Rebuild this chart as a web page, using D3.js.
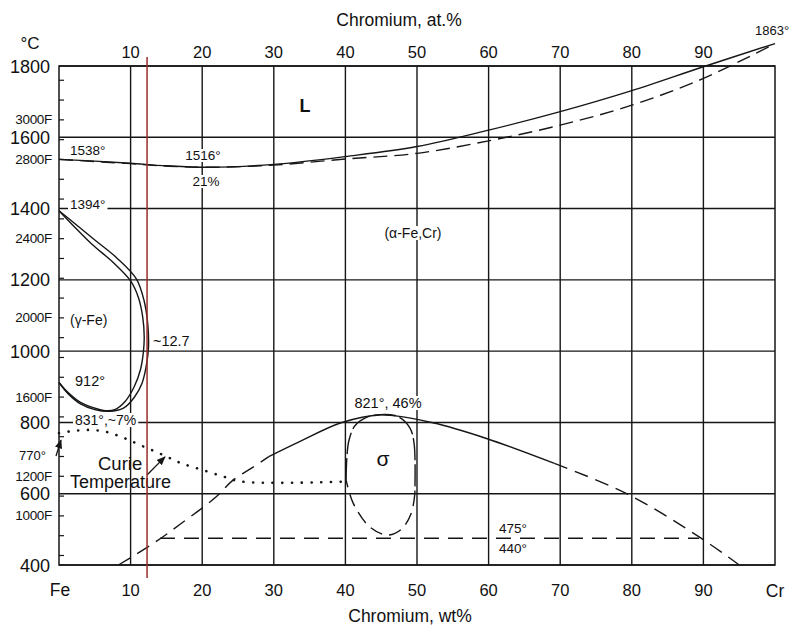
<!DOCTYPE html>
<html><head><meta charset="utf-8">
<script src="https://cdn.jsdelivr.net/npm/d3@7"></script>
<style>
html,body{margin:0;padding:0;background:#fff;}
text{font-family:"Liberation Sans",Arial,sans-serif;fill:#111;}
</style></head>
<body><svg id="c" width="792" height="630"></svg>
<script>
// ---------- data ----------
const wtTicks = [10,20,30,40,50,60,70,80,90];
const atTicks = [10,20,30,40,50,60,70,80,90];
const cTicks = [400,600,800,1000,1200,1400,1600,1800];
const fLabels = [1000,1200,1600,2000,2400,2800,3000];
// liquidus (solid) [wt%, °C]
const liquidus = [[0,1538],[5,1533],[10,1527],[15,1520],[21,1516],[30,1524],[40,1546],[50,1574],[60,1620],[70,1672],[80,1731],[90,1798],[100,1863]];
// solidus (dashed)
const solidus = [[0,1538],[5,1532],[10,1526],[15,1519],[21,1516],[30,1522],[40,1539],[50,1555],[60,1590],[70,1634],[80,1690],[90,1765],[100,1863]];
// gamma loop
const gammaOuter = [[0,1394],[2.2,1358],[5,1312],[8,1263],[10.8,1203],[11.9,1140],[12.4,1075],[12.5,1010],[12.2,960],[11.6,910],[10.5,870],[9,840],[7,831],[5,836],[3,852],[1.3,880],[0,912]];
const gammaInner = [[0,1394],[2,1352],[4.6,1300],[7.5,1250],[10,1197],[11.1,1150],[11.7,1095],[11.9,1040],[11.8,1000],[11.4,950],[10.5,900],[9.2,858],[7.8,836],[6.5,833],[5,840],[3,856],[1.2,885],[0,912]];
// Curie temperature (dotted)
const curie = [[0,770],[2,776],[4,779],[6.5,774],[9,757],[11.5,735],[14.5,709],[17,686],[20,667],[23,648],[25.5,634],[40.2,634]];
// alpha / alpha+sigma dome
const domeLeftDash = [[8.3,400],[13.2,461],[17.1,517],[22,592],[24.3,638],[27,673],[29.3,704]];
const domeSolid = [[29.3,704],[33.6,746],[39.4,799],[44.8,821],[52.2,799],[59.7,755],[69.2,685]];
const domeRightDash = [[69.2,685],[79.2,601],[89.4,479],[95,400]];
// sigma loop
const sigmaSolid = [[40.1,638],[40.2,700],[40.5,750],[41.3,790],[42.8,813],[44.8,822],[47.4,816],[49,785],[49.6,740],[49.7,601]];
const sigmaDash = [[49.7,601],[49.2,545],[47.8,500],[45.9,484],[43.4,507],[41.1,573],[40.1,638]];
// 475 / 440 eutectoid line
const line475 = [[14.1,475],[89.4,475]];
const redLineWt = 12.3;

// ---------- scales ----------
const svg = d3.select("#c");
const x = d3.scaleLinear().domain([0,100]).range([59,775]);
const y = d3.scaleLinear().domain([400,1800]).range([565,66]);
const f2c = f => (f-32)*5/9;
const line = d3.line().x(d=>x(d[0])).y(d=>y(d[1])).curve(d3.curveCatmullRom.alpha(0.5));
const ink = "#161616";

// grid
const g = svg.append("g");
g.selectAll("line.v").data(wtTicks).join("line")
  .attr("x1",d=>x(d)).attr("x2",d=>x(d)).attr("y1",y(1800)).attr("y2",y(400))
  .attr("stroke",ink).attr("stroke-width",1.4);
g.selectAll("line.h").data(cTicks).join("line")
  .attr("x1",x(0)).attr("x2",x(100)).attr("y1",d=>y(d)).attr("y2",d=>y(d))
  .attr("stroke",ink).attr("stroke-width",1.4);
g.append("rect").attr("x",x(0)).attr("y",y(1800)).attr("width",x(100)-x(0)).attr("height",y(400)-y(1800))
  .attr("fill","none").attr("stroke",ink).attr("stroke-width",1.5);
// F minor ticks
g.selectAll("line.f").data(d3.range(800,3300,100)).join("line")
  .attr("x1",x(0)).attr("x2",x(0)+5).attr("y1",d=>y(f2c(d))).attr("y2",d=>y(f2c(d)))
  .attr("stroke",ink).attr("stroke-width",1.2);

// axis labels
svg.selectAll("text.c").data(cTicks).join("text")
  .attr("x",50).attr("y",d=>y(d)+6.5).attr("text-anchor","end").attr("font-size",18).text(d=>d);
svg.selectAll("text.f").data(fLabels).join("text")
  .attr("x",52).attr("y",d=>y(f2c(d))+4.5).attr("text-anchor","end").attr("font-size",13.5)
  .attr("letter-spacing","-0.3").text(d=>d+"F");
svg.append("text").attr("x",30).attr("y",49).attr("text-anchor","middle").attr("font-size",17).text("°C");
svg.selectAll("text.t").data(atTicks).join("text")
  .attr("x",d=>x(d)).attr("y",58).attr("text-anchor","middle").attr("font-size",16.5).text(d=>d);
svg.selectAll("text.b").data(wtTicks).join("text")
  .attr("x",d=>x(d)).attr("y",596).attr("text-anchor","middle").attr("font-size",16.5).text(d=>d);
svg.append("text").attr("x",x(0)+1).attr("y",596).attr("text-anchor","middle").attr("font-size",17.5).text("Fe");
svg.append("text").attr("x",x(100)).attr("y",597).attr("text-anchor","middle").attr("font-size",17.5).text("Cr");
svg.append("text").attr("x",399).attr("y",26).attr("text-anchor","middle").attr("font-size",17.5).text("Chromium, at.%");
svg.append("text").attr("x",410).attr("y",622).attr("text-anchor","middle").attr("font-size",17.5).text("Chromium, wt%");

// curves
const curves = svg.append("g").attr("fill","none").attr("stroke",ink).attr("stroke-width",1.4);
curves.append("path").attr("d",line(solidus)).attr("stroke-dasharray","14,7");
curves.append("path").attr("d",line(liquidus));
curves.append("path").attr("d",line(gammaOuter));
curves.append("path").attr("d",line(gammaInner));
curves.append("path").attr("d",line(domeLeftDash)).attr("stroke-dasharray","14,8");
curves.append("path").attr("d",line(domeSolid));
curves.append("path").attr("d",line(domeRightDash)).attr("stroke-dasharray","14,8");
curves.append("path").attr("d",line(sigmaSolid)).attr("stroke-dasharray","22,4");
curves.append("path").attr("d",line(sigmaDash)).attr("stroke-dasharray","13,7");
curves.append("path").attr("d",d3.line().x(d=>x(d[0])).y(d=>y(d[1]))(line475)).attr("stroke-dasharray","15,9");
curves.append("path").attr("d",line(curie)).attr("stroke-dasharray","0.1,9.6")
  .attr("stroke-linecap","round").attr("stroke-width",2.6);

// labels with white background
function label(txt,xx,yy,size,anchor,bg,extra){
  const t = svg.append("text").attr("x",xx).attr("y",yy).attr("font-size",size)
    .attr("text-anchor",anchor||"start").text(txt);
  if(extra) extra(t);
  if(bg){
    const b = t.node().getBBox();
    svg.insert("rect", ()=>t.node()).attr("x",b.x-2).attr("y",b.y+1).attr("width",b.width+4).attr("height",b.height-2).attr("fill","#fff");
  }
  return t;
}
label("L",305,112,18,"middle",false,t=>t.attr("font-weight","bold"));
label("1538°",70,155,13.5,"start",false);
label("1516°",203,160,13.5,"middle",true);
label("21%",206,186,13.5,"middle",true);
label("1394°",70,209,13.5,"start",true);
label("(α-Fe,Cr)",413,238,14,"middle",true);
label("(γ-Fe)",70,325,14,"start",false);
label("~12.7",153,346,14.5,"start",false);
label("912°",75,386,14.5,"start",false);
label("831°,~7%",75,425,14,"start",true);
label("821°, 46%",388,408,14.5,"middle",true);
label("σ",383,466,21,"middle",false);
label("475°",499,533,13.5,"start",false);
label("440°",499,553,13.5,"start",false);
label("1863°",755,35,13,"start",false);
label("770°",19,460,13,"start",false);
label("Curie",98,470,18.5,"start",false);
label("Temperature",70,488,18,"start",false);

// arrows
const defs = svg.append("defs");
defs.append("marker").attr("id","ah").attr("viewBox","0 0 10 10").attr("refX",9).attr("refY",5)
  .attr("markerWidth",7).attr("markerHeight",7).attr("orient","auto")
  .append("path").attr("d","M0,1 L10,5 L0,9 z").attr("fill",ink);
svg.append("line").attr("x1",56).attr("y1",456).attr("x2",x(0)+2).attr("y2",y(770)+7)
  .attr("stroke",ink).attr("stroke-width",1.3).attr("marker-end","url(#ah)");
svg.append("line").attr("x1",147).attr("y1",475).attr("x2",x(14.8)).attr("y2",y(709)+2)
  .attr("stroke",ink).attr("stroke-width",1.3).attr("marker-end","url(#ah)");

// red reference line
svg.append("line").attr("x1",x(redLineWt)).attr("x2",x(redLineWt)).attr("y1",57).attr("y2",578)
  .attr("stroke","#9b2a2a").attr("stroke-width",1.5);
</script></body></html>
